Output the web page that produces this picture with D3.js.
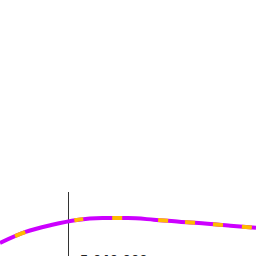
<!DOCTYPE html>
<html>
<head>
<meta charset="utf-8">
<script src="https://cdn.jsdelivr.net/npm/d3@7"></script>
<style>
  body { margin: 0; background: #fff; }
  svg { display: block; }
</style>
</head>
<body>
<svg width="256" height="256"></svg>
<script>
// data
var steps = [0, 1, 2, 3, 4, 5, 6, 7, 8, 9, 10];
var values = [5.1, 9.4, 12.1, 14.1, 14.8, 14.8, 14.2, 13.4, 12.7, 11.8, 11.0];
var markerStep = 2.66;
var markerLabel = "5,040,000";

var svg = d3.select("svg"),
    width = +svg.attr("width"),
    height = +svg.attr("height");

var x = d3.scaleLinear().domain([0, 10]).range([0, width]),
    y = d3.scaleLinear().domain([0, 100]).range([height, 0]);

var data = steps.map(function (s, i) {
    return { s: s, v: values[i] };
});

var line = d3.line()
    .x(function (d) { return x(d.s); })
    .y(function (d) { return y(d.v); })
    .curve(d3.curveMonotoneX);

// marker line
svg.append("line")
    .attr("x1", Math.round(x(markerStep)) + 0.5)
    .attr("x2", Math.round(x(markerStep)) + 0.5)
    .attr("y1", y(25))
    .attr("y2", height)
    .attr("stroke", "#333")
    .attr("stroke-width", 1);

// purple line, yellow dashes on top
svg.append("path")
    .datum(data)
    .attr("fill", "none")
    .attr("stroke", "#cc00ff")
    .attr("stroke-width", 4)
    .attr("d", line);

svg.append("path")
    .datum(data)
    .attr("fill", "none")
    .attr("stroke", "#ffbb00")
    .attr("stroke-width", 4)
    .attr("stroke-dasharray", "0,16.5,11,50.5,9,29,10,36,10,17,10,18,10,19,10,60")
    .attr("d", line);

svg.append("text")
    .attr("x", x(markerStep) + 12)
    .attr("y", height + 8)
    .attr("font-family", "DejaVu Sans, sans-serif")
    .attr("font-size", 12)
    .attr("font-weight", "bold")
    .attr("fill", "#222")
    .text(markerLabel);
</script>
</body>
</html>
